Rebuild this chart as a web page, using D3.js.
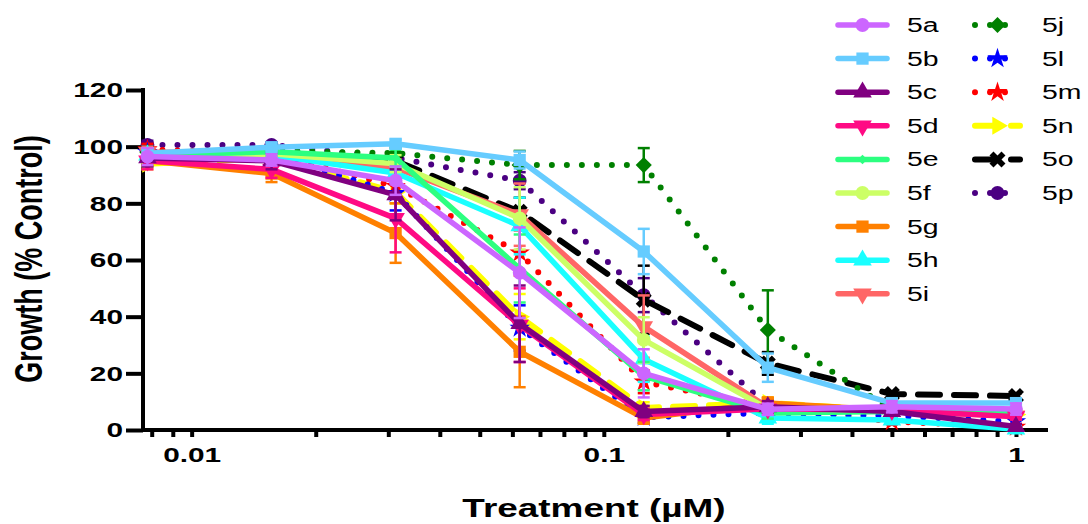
<!DOCTYPE html>
<html>
<head>
<meta charset="utf-8">
<script src="https://cdn.jsdelivr.net/npm/d3@7"></script>
<style>
  body { margin: 0; background: #fff; }
  svg { display: block; font-family: "Liberation Sans", Arial, sans-serif; }
</style>
</head>
<body>
<script>
// doses (uM), two-fold dilution
var doses = [0.0078125, 0.015625, 0.03125, 0.0625, 0.125, 0.25, 0.5, 1];

// growth (% control) per compound
var g5a = [96.5, 95.3, 88, 55.5, 20, 7.3, 8.2, 7.4];
var g5b = [97.7, 99.8, 101, 95.3, 63, 22, 9.5, 9.5];
var g5c = [96, 95, 83, 37.5, 6.5, 8.2, 6.5, 1.2];
var g5d = [95, 92, 74.7, 37, 5.5, 7.5, 7, 4.7];
var g5e = [97, 98.2, 96, 57, 19, 6, 6.5, 6];
var g5f = [95, 97.5, 94, 74.7, 31.8, 7.5, 7, 6.5];
var g5g = [95, 90.5, 69.5, 27.6, 4.2, 9.5, 7, 5.5];
var g5h = [97, 97, 90.7, 72, 25, 4.2, 3.5, 0.3];
var g5i = [98, 98, 92.5, 76, 36.5, 8, 6.5, 5];
var g5j = [98, 98.5, 97.7, 93.5, 93.5, 35.3, 7, 6];
var g5l = [98, 97.5, 83.5, 36, 4.5, 6, 5, 3];
var g5m = [99, 97.5, 86, 62.5, 17, 8, 3, 1];
var g5n = [94, 96, 84, 40, 7.8, 9.5, 7, 5.5];
var g5o = [97, 98, 95, 77, 46, 23.5, 12.7, 12];
var g5p = [100.6, 100.6, 96, 88, 47.6, 8.5, 6.5, 6];

// error (SD) per compound
var e5a = [3, 2, 5, 16, 8.5, 2, 2, 2];
var e5b = [1.5, 1.5, 1.5, 3, 8, 5, 1.5, 1.5];
var e5c = [3, 3, 9, 13.5, 2, 2, 1, 1];
var e5d = [3, 3, 12, 13, 2, 2, 1, 1];
var e5e = [2, 1.5, 3, 12, 5, 2, 1, 1];
var e5f = [2, 1.5, 3, 11, 8, 2, 1, 1];
var e5g = [2, 3, 10.5, 12.5, 2, 2, 1, 1];
var e5h = [2, 2, 4, 10, 8, 2, 1, 1];
var e5i = [2, 2, 3, 11, 11, 2, 1, 1];
var e5j = [2, 1, 2, 5, 6, 14, 2, 1];
var e5l = [2, 2, 6, 8, 2, 2, 1, 1];
var e5m = [2, 2, 4, 8, 4, 2, 1, 1];
var e5n = [2, 2, 4, 8, 2, 2, 1, 1];
var e5o = [2, 1, 2, 5, 12, 4, 1, 1];
var e5p = [1.5, 1, 2, 3, 6, 2, 1, 1];

var names = ["5a", "5b", "5c", "5d", "5e", "5f", "5g", "5h", "5i", "5j", "5l", "5m", "5n", "5o", "5p"];
var growth = [g5a, g5b, g5c, g5d, g5e, g5f, g5g, g5h, g5i, g5j, g5l, g5m, g5n, g5o, g5p];
var errors = [e5a, e5b, e5c, e5d, e5e, e5f, e5g, e5h, e5i, e5j, e5l, e5m, e5n, e5o, e5p];
var yTicks = [0, 20, 40, 60, 80, 100, 120];
var xLabels = [0.01, 0.1, 1];

// look of each series
var styles = [
  {color: "#cc66ff", dash: null, shape: "circle"},
  {color: "#66ccff", dash: null, shape: "square"},
  {color: "#800080", dash: null, shape: "triangle"},
  {color: "#ff0a84", dash: null, shape: "triangleDown"},
  {color: "#2cff80", dash: null, shape: "diamondSmall"},
  {color: "#ccff66", dash: null, shape: "circle"},
  {color: "#ff8000", dash: null, shape: "square"},
  {color: "#1affff", dash: null, shape: "triangle"},
  {color: "#ff6666", dash: null, shape: "triangleDown"},
  {color: "#008000", dash: "dot", shape: "diamond"},
  {color: "#0000ff", dash: "dot", shape: "star"},
  {color: "#ff0000", dash: "dot", shape: "star"},
  {color: "#ffff00", dash: "dash", shape: "arrow"},
  {color: "#000000", dash: "dash", shape: "x"},
  {color: "#4b0082", dash: "dot", shape: "circle"}
];

var SX = 1.42; // the original figure is stretched sideways

var svg = d3.select("body").append("svg")
    .attr("width", 1088)
    .attr("height", 524);

var x = d3.scaleLog().domain([0.00762, 1.196]).range([143, 1048]);
var y = d3.scaleLinear().domain([0, 120]).range([430, 90]);

function markerPath(shape) {
  switch (shape) {
    case "square": return {d: d3.symbol(d3.symbolSquare, 150)(), r: 0};
    case "triangle": return {d: d3.symbol(d3.symbolTriangle, 150)(), r: 0};
    case "triangleDown": return {d: d3.symbol(d3.symbolTriangle, 150)(), r: 180};
    case "diamondSmall": return {d: d3.symbol(d3.symbolSquare, 45)(), r: 45};
    case "diamond": return {d: d3.symbol(d3.symbolSquare, 130)(), r: 45};
    case "star": return {d: d3.symbol(d3.symbolStar, 130)(), r: 0};
    case "arrow": return {d: d3.symbol(d3.symbolTriangle, 140)(), r: 90};
    case "x": return {d: d3.symbol(d3.symbolCross, 160)(), r: 45};
    default: return {d: d3.symbol(d3.symbolCircle, 150)(), r: 0};
  }
}

function styleLine(sel, st) {
  sel.attr("fill", "none")
    .attr("stroke", st.color)
    .attr("stroke-linecap", "round")
    .attr("stroke-linejoin", "round");
  if (st.dash === "dot") {
    sel.attr("stroke-width", 6).attr("stroke-dasharray", "0,15");
  } else if (st.dash === "dash") {
    sel.attr("stroke-width", 6).attr("stroke-dasharray", "22,14");
  } else {
    sel.attr("stroke-width", 5.5);
  }
}

// axes
var yAxis = d3.axisLeft(y).tickValues(yTicks).tickSize(17).tickSizeOuter(0).tickPadding(2);
var gy = svg.append("g").attr("transform", "translate(143,0)").call(yAxis);
gy.select(".domain").attr("stroke-width", 4).attr("d", "M0,88V432");
gy.selectAll(".tick line").attr("stroke-width", 4);
gy.selectAll(".tick text")
    .attr("x", -20 / SX)
    .attr("transform", "scale(" + SX + ",1)")
    .attr("font-size", 21)
    .attr("font-weight", "bold")
    .attr("fill", "#000");

var xAxis = d3.axisBottom(x)
    .tickValues(x.ticks())
    .tickSize(7)
    .tickSizeOuter(0)
    .tickFormat(function (d) { return xLabels.indexOf(d) >= 0 ? String(d) : ""; });
var gx = svg.append("g").attr("transform", "translate(0,430)").call(xAxis);
gx.select(".domain").attr("stroke-width", 4).attr("d", "M141,0H1048");
gx.selectAll(".tick line").attr("stroke-width", 4);
gx.selectAll(".tick text")
    .attr("y", 17)
    .attr("transform", "scale(" + SX + ",1)")
    .attr("font-size", 21)
    .attr("font-weight", "bold")
    .attr("fill", "#000");

// axis titles
svg.append("text")
    .attr("transform", "translate(42,259) scale(" + SX + ",1) rotate(-90)")
    .attr("text-anchor", "middle")
    .attr("font-size", 27)
    .attr("font-weight", "bold")
    .text("Growth (% Control)");

svg.append("text")
    .attr("transform", "translate(594,517) scale(" + SX + ",1)")
    .attr("text-anchor", "middle")
    .attr("font-size", 26)
    .attr("font-weight", "bold")
    .text("Treatment (µM)");

// series, last one drawn first so 5a ends on top
var line = d3.line()
    .x(function (d) { return x(d.dose); })
    .y(function (d) { return y(d.val); });

for (var s = names.length - 1; s >= 0; s--) {
  var st = styles[s];
  var pts = doses.map(function (d, i) { return {dose: d, val: growth[s][i], err: errors[s][i]}; });
  var g = svg.append("g").attr("class", "series-" + names[s]);

  var eb = g.append("g")
      .attr("stroke", st.color)
      .attr("stroke-width", 2.5)
      .selectAll("g")
      .data(pts)
      .enter()
      .append("g");
  eb.append("line")
      .attr("x1", function (d) { return x(d.dose); })
      .attr("x2", function (d) { return x(d.dose); })
      .attr("y1", function (d) { return y(d.val + d.err); })
      .attr("y2", function (d) { return y(Math.max(0, d.val - d.err)); });
  eb.append("line")
      .attr("x1", function (d) { return x(d.dose) - 6; })
      .attr("x2", function (d) { return x(d.dose) + 6; })
      .attr("y1", function (d) { return y(d.val + d.err); })
      .attr("y2", function (d) { return y(d.val + d.err); });
  eb.append("line")
      .attr("x1", function (d) { return x(d.dose) - 6; })
      .attr("x2", function (d) { return x(d.dose) + 6; })
      .attr("y1", function (d) { return y(Math.max(0, d.val - d.err)); })
      .attr("y2", function (d) { return y(Math.max(0, d.val - d.err)); });

  g.append("path").datum(pts).attr("d", line).call(styleLine, st);

  var mk = markerPath(st.shape);
  g.selectAll(".mk")
      .data(pts)
      .enter()
      .append("path")
      .attr("class", "mk")
      .attr("d", mk.d)
      .attr("fill", st.color)
      .attr("transform", function (d) {
        return "translate(" + x(d.dose) + "," + y(d.val) + ") rotate(" + mk.r + ")";
      });
}

// legend, two columns
var legend = svg.append("g").attr("class", "legend");
names.forEach(function (name, i) {
  var st = styles[i];
  var col = i < 9 ? 0 : 1;
  var row = col === 0 ? i : i - 9;
  var x0 = col === 0 ? 838 : 975;
  var x1 = col === 0 ? 887 : 1020;
  var ty = 25 + row * 33.6;
  var lg = legend.append("g");
  lg.append("path")
      .attr("d", "M" + x0 + "," + ty + "H" + x1)
      .call(styleLine, st);
  var mk = markerPath(st.shape);
  lg.append("path")
      .attr("d", mk.d)
      .attr("fill", st.color)
      .attr("transform", "translate(" + ((x0 + x1) / 2) + "," + ty + ") rotate(" + mk.r + ")");
  lg.append("text")
      .attr("transform", "translate(" + (col === 0 ? 907 : 1042) + "," + (ty + 7) + ") scale(" + SX + ",1)")
      .attr("font-size", 20)
      .text(name);
});
</script>
</body>
</html>
